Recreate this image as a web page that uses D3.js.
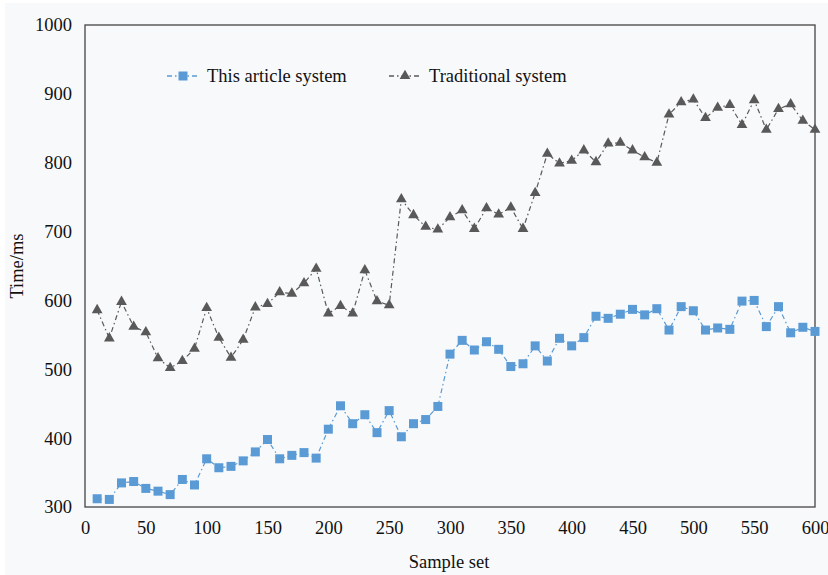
<!DOCTYPE html>
<html>
<head>
<meta charset="utf-8">
<script src="https://cdn.jsdelivr.net/npm/d3@7"></script>
<style>
  html, body { margin: 0; padding: 0; background: #ffffff; }
  svg { display: block; }
</style>
</head>
<body>
<svg id="chart" width="828" height="575"></svg>
<script>
const sampleSet = d3.range(10, 601, 10);
const thisArticle = [312, 311, 335, 337, 327, 323, 318, 340, 332, 370,
  357, 359, 367, 380, 398, 370, 375, 379, 371, 413,
  447, 421, 434, 408, 440, 402, 421, 427, 446, 522,
  542, 528, 540, 529, 504, 508, 534, 512, 545, 534,
  546, 577, 574, 580, 587, 579, 588, 557, 591, 585,
  557, 560, 558, 599, 600, 562, 591, 553, 561, 555];
const traditional = [586, 545, 598, 562, 554, 516, 502, 512, 530, 589,
  546, 517, 543, 590, 595, 612, 610, 625, 646, 581,
  592, 581, 644, 599, 593, 747, 724, 707, 703, 721,
  731, 704, 734, 725, 735, 704, 756, 813, 799, 803,
  818, 801, 828, 829, 818, 808, 800, 870, 888, 892,
  865, 880, 884, 855, 891, 848, 878, 885, 861, 848];
const xTicks = d3.range(0, 601, 50);
const yTicks = d3.range(300, 1001, 100);
const seriesNames = ["This article system", "Traditional system"];

const FONT = "'Liberation Serif', 'Times New Roman', Times, 'DejaVu Serif', serif";
const FS = 18.5;
const svg = d3.select("#chart");
svg.append("rect").attr("x", 5).attr("y", 3).attr("width", 823).attr("height", 572).attr("fill", "#f8f9fb");

const mLeft = 85, mRight = 815, mTop = 25, mBottom = 507;
const x = d3.scaleLinear().domain([0, 600]).range([mLeft, mRight]);
const y = d3.scaleLinear().domain([300, 1000]).range([mBottom, mTop]);

const blue = "#5b9bd5", gray = "#595959";
const dash = "5,3,1.5,3";

// frame
svg.append("rect").attr("x", mLeft).attr("y", mTop)
  .attr("width", mRight - mLeft).attr("height", mBottom - mTop)
  .attr("fill", "none").attr("stroke", "#444").attr("stroke-width", 1.3);

// axes (labels only)
const xAxis = svg.append("g").attr("transform", `translate(0,${mBottom})`)
  .call(d3.axisBottom(x).tickValues(xTicks).tickFormat(d3.format("d")).tickSize(0).tickPadding(14));
xAxis.select(".domain").remove();
xAxis.attr("font-family", FONT).attr("font-size", FS);
xAxis.selectAll("text").attr("fill", "#111");

const yAxis = svg.append("g").attr("transform", `translate(${mLeft},0)`)
  .call(d3.axisLeft(y).tickValues(yTicks).tickFormat(d3.format("d")).tickSize(0).tickPadding(13));
yAxis.select(".domain").remove();
yAxis.attr("font-family", FONT).attr("font-size", FS);
yAxis.selectAll("text").attr("fill", "#111");

svg.append("text").attr("x", 449).attr("y", 568).attr("text-anchor", "middle")
  .attr("font-family", FONT).attr("font-size", FS).attr("fill", "#111").text("Sample set");
svg.append("text").attr("transform", "translate(23,266) rotate(-90)")
  .attr("text-anchor", "middle").attr("font-family", FONT).attr("font-size", FS)
  .attr("fill", "#111").text("Time/ms");

const line = d3.line().x((d, i) => x(sampleSet[i])).y(d => y(d));

// traditional
svg.append("path").datum(traditional).attr("d", line)
  .attr("fill", "none").attr("stroke", gray).attr("stroke-width", 1.2)
  .attr("stroke-dasharray", dash);
const tri = d3.symbol().type(d3.symbolTriangle).size(50);
svg.append("g").selectAll("path").data(traditional).join("path")
  .attr("d", tri)
  .attr("transform", (d, i) => `translate(${x(sampleSet[i])},${y(d)})`)
  .attr("fill", gray);

// this article
svg.append("path").datum(thisArticle).attr("d", line)
  .attr("fill", "none").attr("stroke", blue).attr("stroke-width", 1.2)
  .attr("stroke-dasharray", dash);
svg.append("g").selectAll("rect").data(thisArticle).join("rect")
  .attr("x", (d, i) => x(sampleSet[i]) - 4.5)
  .attr("y", d => y(d) - 4.5)
  .attr("width", 9).attr("height", 9)
  .attr("fill", blue);

// legend
const legY = 76;
const lg1 = svg.append("g");
lg1.append("line").attr("x1", 167).attr("x2", 199).attr("y1", legY).attr("y2", legY)
  .attr("stroke", blue).attr("stroke-width", 1.4).attr("stroke-dasharray", dash);
lg1.append("rect").attr("x", 178.5).attr("y", legY - 4.5).attr("width", 9).attr("height", 9).attr("fill", blue);
lg1.append("text").attr("x", 207).attr("y", legY + 6).attr("font-family", FONT)
  .attr("font-size", FS).attr("fill", "#111").text(seriesNames[0]);

const lg2 = svg.append("g");
lg2.append("line").attr("x1", 389).attr("x2", 421).attr("y1", legY).attr("y2", legY)
  .attr("stroke", gray).attr("stroke-width", 1.4).attr("stroke-dasharray", dash);
lg2.append("path").attr("d", tri).attr("transform", `translate(405,${legY})`).attr("fill", gray);
lg2.append("text").attr("x", 429).attr("y", legY + 6).attr("font-family", FONT)
  .attr("font-size", FS).attr("fill", "#111").text(seriesNames[1]);
</script>
</body>
</html>
